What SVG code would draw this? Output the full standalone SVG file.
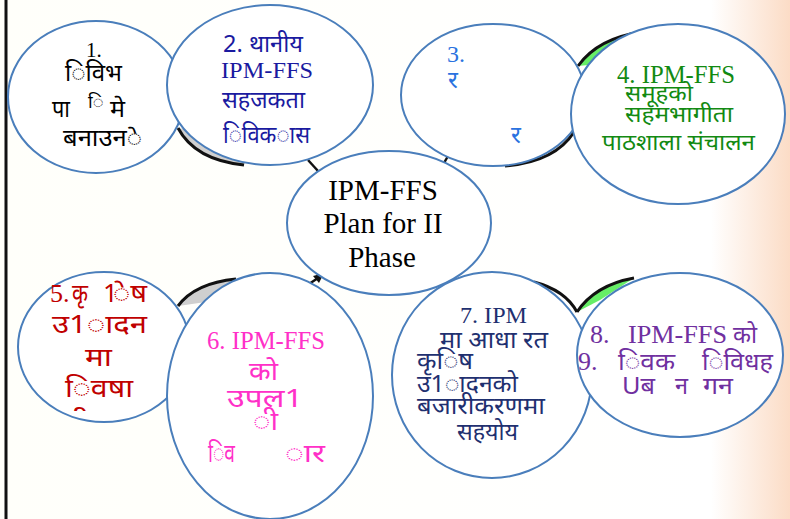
<svg xmlns="http://www.w3.org/2000/svg" width="790" height="519" viewBox="0 0 790 519">
<defs>
<linearGradient id="bg" x1="0" y1="0" x2="1" y2="0">
<stop offset="0" stop-color="#fffffa"/>
<stop offset="0.9" stop-color="#ffffff"/>
<stop offset="1" stop-color="#fbdcc6"/>
</linearGradient>
<clipPath id="c5"><rect x="0" y="0" width="200" height="411"/></clipPath>
</defs>
<style>
.e{fill:#fff;stroke:#4a7ebb;stroke-width:2}
.arc{fill:none;stroke:#111;stroke-width:3}
.gray{fill:#cfcfcf;stroke:none}
.green{fill:#66ee66;stroke:none}
.ln{stroke:#111;stroke-width:2.5;fill:none}
</style>
<rect x="0" y="0" width="790" height="519" fill="url(#bg)"/>
<line x1="6" y1="0" x2="6" y2="519" stroke="#111" stroke-width="3"/>
<g id="connectors">
<path class="gray" d="M178,128 Q195,160 244,165 L260,140 Z"/>
<path class="arc" d="M178,128 Q195,160 244,165"/>
<path class="green" d="M578,66 Q598,38 642,32 L640,60 Z"/>
<path class="arc" d="M578,66 Q598,38 642,32"/>
<path class="gray" d="M505,166 Q555,162 574,132 L540,140 Z"/>
<path class="arc" d="M505,166 Q555,162 574,132"/>
<path class="gray" d="M178,306 Q195,283 236,279 L220,300 Z"/>
<path class="arc" d="M178,306 Q195,283 236,279"/>
<path class="gray" d="M534,282 Q565,290 577,312 L570,300 Z"/>
<path class="arc" d="M534,282 Q565,290 577,312"/>
<path class="green" d="M577,312 Q595,285 634,278 L600,300 Z"/>
<path class="arc" d="M577,312 Q595,285 634,278"/>
<line class="ln" x1="308" y1="160" x2="318" y2="171"/>
<line class="ln" x1="444" y1="163" x2="448" y2="156"/>
<line class="ln" x1="300" y1="290" x2="318" y2="278"/>
<path d="M324,273 L313,276 L319,283 Z" fill="#111"/>
</g>
<g id="node1" font-family="Noto Sans, sans-serif" font-size="24" fill="#000" text-anchor="start">
<ellipse class="e" cx="96" cy="97" rx="88" ry="76"/>
<text font-family="Liberation Serif, serif" font-size="21" x="86" y="57">1.</text>
<text x="65" y="81" textLength="57" lengthAdjust="spacingAndGlyphs">◌िविभ</text>
<text x="52" y="117" textLength="18" lengthAdjust="spacingAndGlyphs">पा</text>
<text x="88" y="108" font-size="18"> ि</text>
<text x="110" y="117" textLength="15" lengthAdjust="spacingAndGlyphs">मे</text>
<text x="63" y="146" textLength="79" lengthAdjust="spacingAndGlyphs">बनाउन◌े</text>
</g>
<g id="node2" font-family="Noto Sans, sans-serif" font-size="24" fill="#1a1aa0" text-anchor="start">
<ellipse class="e" cx="270" cy="85" rx="103" ry="80"/>
<text x="223" y="52" textLength="80" lengthAdjust="spacingAndGlyphs">2. थानीय</text>
<text font-family="Liberation Serif, serif" x="221" y="78" textLength="92" lengthAdjust="spacingAndGlyphs">IPM-FFS</text>
<text x="222" y="108" textLength="83" lengthAdjust="spacingAndGlyphs">सहजकता</text>
<text x="223" y="143" textLength="87" lengthAdjust="spacingAndGlyphs">◌िविक◌ास</text>
</g>
<g id="node3" font-family="Noto Sans, sans-serif" font-size="24" fill="#2a72e0" text-anchor="start">
<ellipse class="e" cx="493" cy="95" rx="92" ry="71"/>
<text font-family="Liberation Serif, serif" x="447" y="62">3.</text>
<text x="448" y="88">र</text>
<text x="511" y="143">र</text>
</g>
<g id="node4" font-family="Noto Sans, sans-serif" font-size="22" fill="#128a12" text-anchor="start">
<ellipse class="e" cx="678" cy="114" rx="107" ry="90"/>
<text font-family="Liberation Serif, serif" font-size="25" x="617" y="83" textLength="118" lengthAdjust="spacingAndGlyphs">4. IPM-FFS</text>
<text x="625" y="101" textLength="68" lengthAdjust="spacingAndGlyphs">समूहको</text>
<text x="625" y="122" textLength="108" lengthAdjust="spacingAndGlyphs">सहमभागीता</text>
<text x="602" y="150" textLength="153" lengthAdjust="spacingAndGlyphs">पाठशाला संचालन</text>
</g>
<g id="center" font-family="Liberation Serif, serif" font-size="29" fill="#000" text-anchor="middle">
<ellipse class="e" cx="389" cy="223" rx="102" ry="72"/>
<text x="383" y="200">IPM-FFS</text>
<text x="383" y="233">Plan for II</text>
<text x="382" y="267">Phase</text>
</g>
<g id="node5" font-family="Noto Sans, sans-serif" font-size="26" fill="#c00000" text-anchor="start">
<ellipse class="e" cx="104" cy="347" rx="86" ry="75"/>
<g clip-path="url(#c5)">
<text font-family="Liberation Serif, serif" x="50" y="302">5.</text>
<text x="72" y="302" textLength="16" lengthAdjust="spacingAndGlyphs">कृ</text>
<text x="103" y="302">1</text>
<text x="113" y="302" textLength="34" lengthAdjust="spacingAndGlyphs">◌ेष</text>
<text x="52" y="333" textLength="95" lengthAdjust="spacingAndGlyphs">उ1◌ादन</text>
<text x="85" y="366" textLength="27" lengthAdjust="spacingAndGlyphs">मा</text>
<text x="65" y="397" textLength="68" lengthAdjust="spacingAndGlyphs">◌िवषा</text>
<text x="62" y="430" textLength="70" lengthAdjust="spacingAndGlyphs">ीमार</text>
</g>
</g>
<g id="node6" font-family="Noto Sans, sans-serif" font-size="26" fill="#ff30c8" text-anchor="start">
<ellipse class="e" cx="270" cy="396" rx="103" ry="123"/>
<text font-family="Liberation Serif, serif" font-size="25" x="207" y="349" textLength="118" lengthAdjust="spacingAndGlyphs">6. IPM-FFS</text>
<text x="249" y="380" textLength="29" lengthAdjust="spacingAndGlyphs">को</text>
<text x="227" y="407" textLength="76" lengthAdjust="spacingAndGlyphs">उपल1</text>
<text x="253" y="430" textLength="25" lengthAdjust="spacingAndGlyphs">◌ी</text>
<text x="208" y="462" textLength="27" lengthAdjust="spacingAndGlyphs">◌िव</text>
<text x="285" y="462" textLength="40" lengthAdjust="spacingAndGlyphs">◌ार</text>
</g>
<g id="node7" font-family="Noto Sans, sans-serif" font-size="24" fill="#1f3070" text-anchor="start">
<ellipse class="e" cx="492" cy="375" rx="100" ry="103"/>
<text font-family="Liberation Serif, serif" x="460" y="323" textLength="67" lengthAdjust="spacingAndGlyphs">7. IPM</text>
<text x="440" y="348" textLength="108" lengthAdjust="spacingAndGlyphs">मा आधा रत</text>
<text x="417" y="369" textLength="56" lengthAdjust="spacingAndGlyphs">कृ◌िष</text>
<text x="417" y="392" textLength="101" lengthAdjust="spacingAndGlyphs">उ1◌ादनको</text>
<text x="417" y="414" textLength="128" lengthAdjust="spacingAndGlyphs">बजारीकरणमा</text>
<text x="457" y="440" textLength="61" lengthAdjust="spacingAndGlyphs">सहयोय</text>
</g>
<g id="node8" font-family="Noto Sans, sans-serif" font-size="24" fill="#7030a0" text-anchor="start">
<ellipse class="e" cx="680" cy="355" rx="103" ry="82"/>
<text font-family="Liberation Serif, serif" font-size="26" x="590" y="343">8.</text>
<text font-family="Liberation Serif, serif" font-size="26" x="628" y="343" textLength="99" lengthAdjust="spacingAndGlyphs">IPM-FFS</text>
<text x="733" y="343" textLength="24" lengthAdjust="spacingAndGlyphs">को</text>
<text font-family="Liberation Serif, serif" font-size="26" x="578" y="370">9.</text>
<text x="618" y="370" textLength="57" lengthAdjust="spacingAndGlyphs">◌िवक</text>
<text x="702" y="370" textLength="71" lengthAdjust="spacingAndGlyphs">◌िविधह</text>
<text x="622" y="394" textLength="33" lengthAdjust="spacingAndGlyphs">Uब</text>
<text x="675" y="394" textLength="13" lengthAdjust="spacingAndGlyphs">न</text>
<text x="703" y="394" textLength="30" lengthAdjust="spacingAndGlyphs">गन</text>
</g>
</svg>
